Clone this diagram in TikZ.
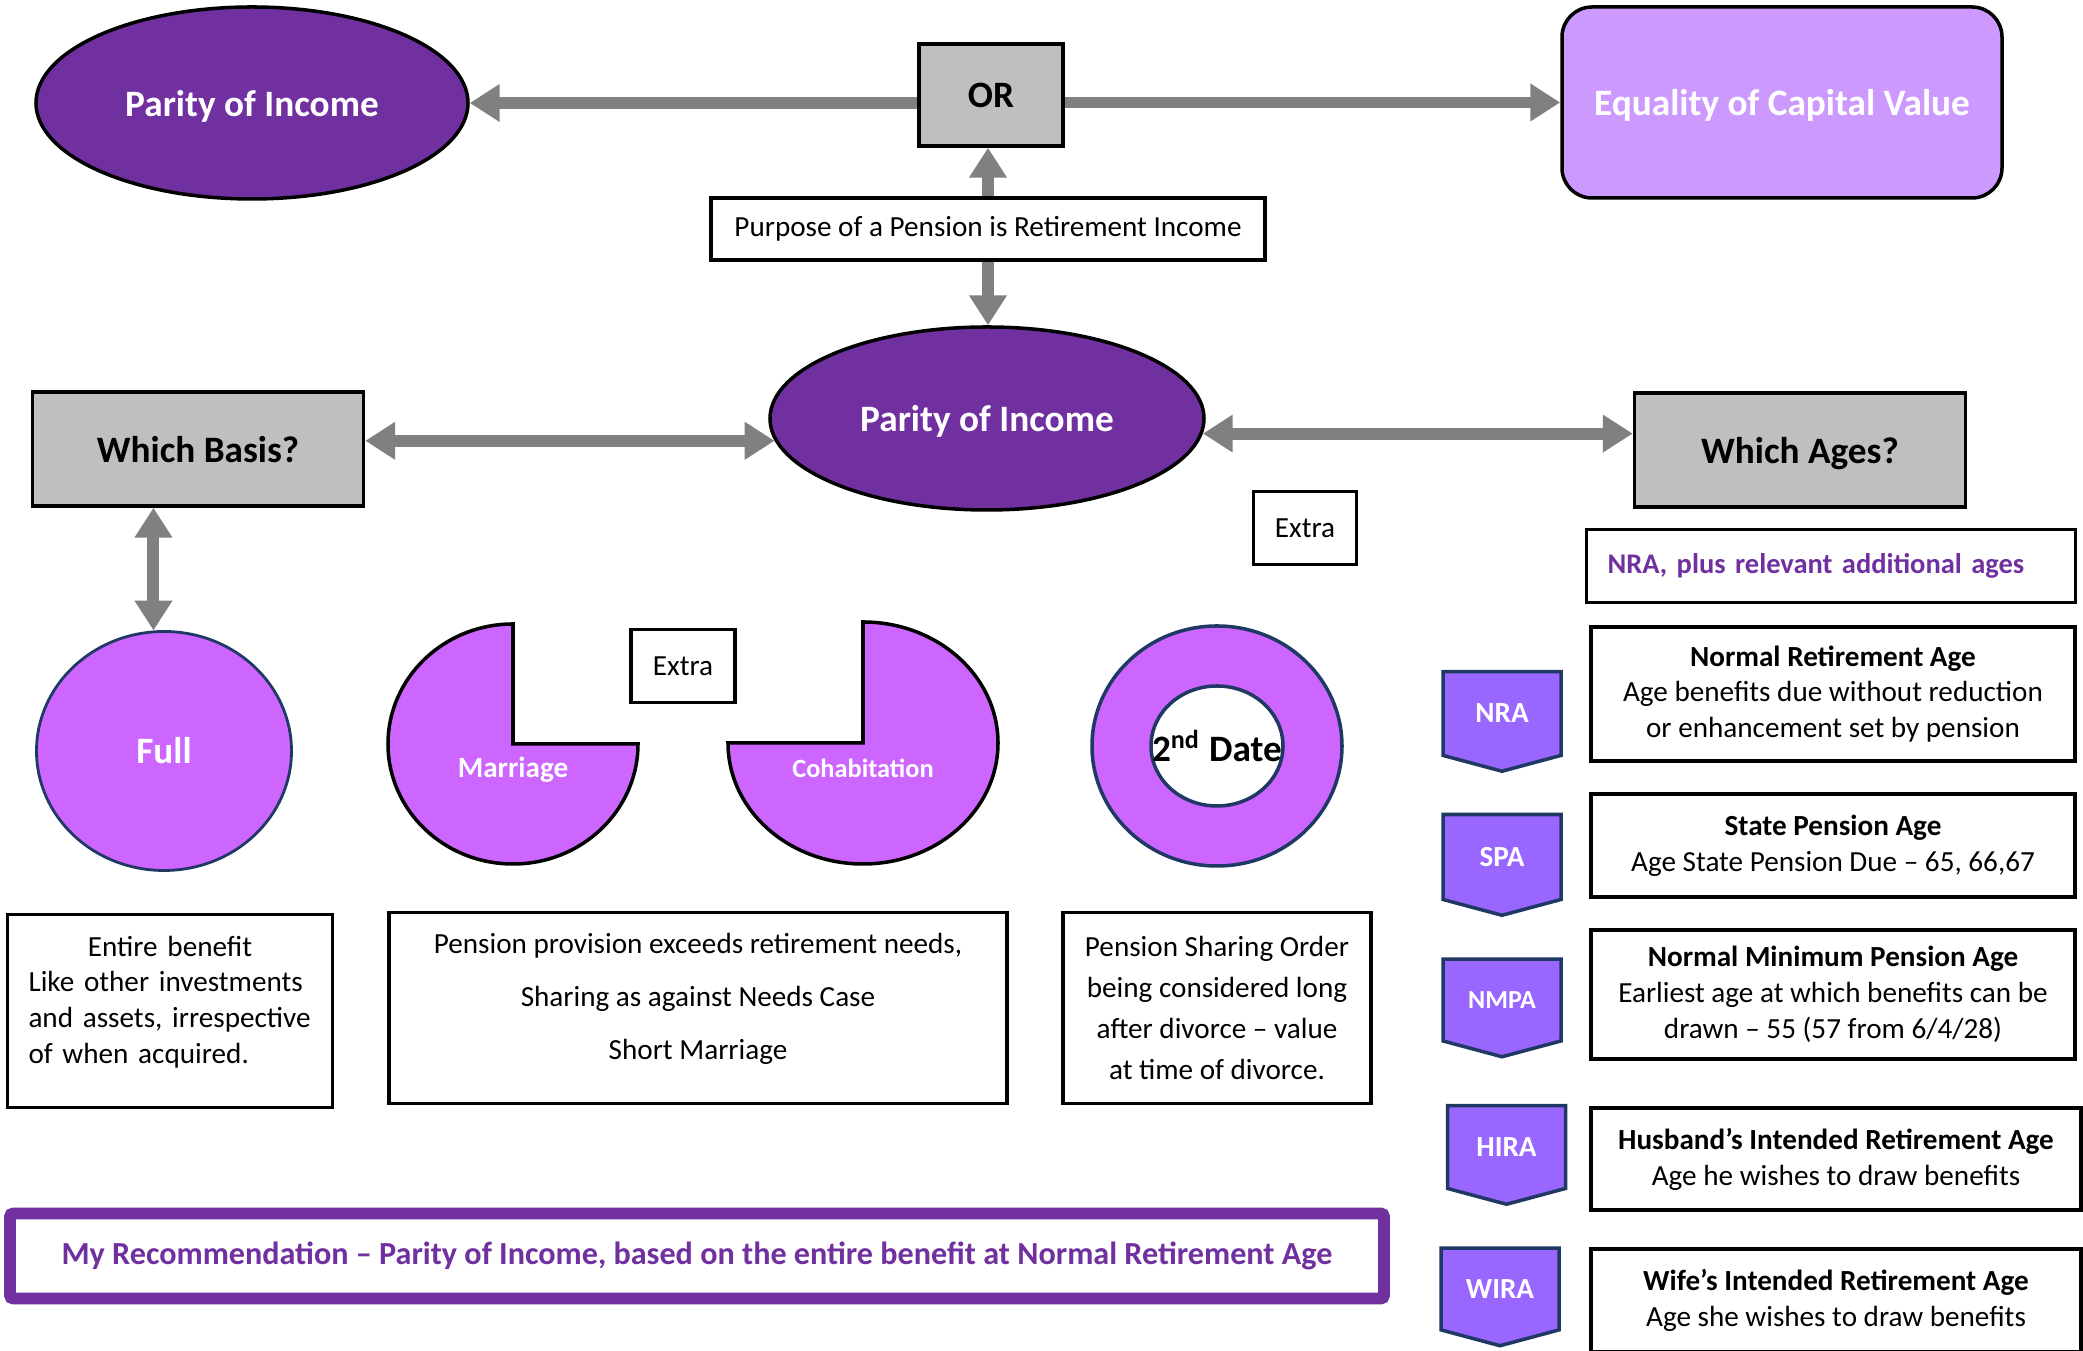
\documentclass[tikz,border=0pt]{standalone}
\usepackage{fontspec}
\setmainfont{Carlito}
\usepackage{tikz}
\usetikzlibrary{arrows.meta,shapes.geometric,shapes.symbols}

\definecolor{plum}{HTML}{7030A0}
\definecolor{lilac}{HTML}{CC99FF}
\definecolor{orchid}{HTML}{CC66FF}
\definecolor{tagfill}{HTML}{9966FF}
\definecolor{edgeblue}{HTML}{203864}
\definecolor{boxgray}{HTML}{BFBFBF}
\definecolor{arrowgray}{HTML}{808080}

\newcommand{\bodysize}{\fontsize{8.3pt}{10.2pt}\selectfont}
\newcommand{\headsize}{\fontsize{10.6pt}{12.5pt}\selectfont}
\newcommand{\recsize}{\fontsize{9.15pt}{11pt}\selectfont}
\newcommand{\lift}{\rule[-6.4pt]{0pt}{6.4pt}}
\frenchspacing

\begin{document}
\begin{tikzpicture}[
    darkoval/.style={ellipse, draw, line width=1pt, fill=plum, text=white, font=\headsize\bfseries, text depth=0pt, inner sep=0pt},
    graybox/.style={rectangle, draw, line width=1pt, fill=boxgray, font=\headsize\bfseries, text depth=0pt, inner sep=0pt},
    textbox/.style={rectangle, draw, line width=1pt, fill=white, align=center, font=\bodysize, inner sep=0pt},
    agetag/.style={signal, signal to=south, signal pointer angle=150, draw=edgeblue, line width=1pt, fill=tagfill, text=white, font=\bodysize\bfseries, inner sep=0pt, minimum width=1.18cm, minimum height=0.91cm},
    slice/.style={draw, line width=1pt, fill=orchid},
    link/.style={draw=arrowgray, line width=3.4pt, -{Triangle[width=10.2pt,length=8.5pt]}},
    twoway/.style={draw=arrowgray, line width=3.4pt, {Triangle[width=10.2pt,length=8.5pt]}-{Triangle[width=10.2pt,length=8.5pt]}}
]
    \useasboundingbox (0,0) rectangle (20.83,13.51);

    \node[darkoval, minimum width=4.32cm, minimum height=1.92cm] (parityTop) at (2.52,12.48) {Parity of Income};
    \node[graybox, minimum width=1.44cm, minimum height=1.02cm] (or) at (9.91,12.56) {OR};
    \node[rectangle, rounded corners=0.3cm, draw, line width=1pt, fill=lilac, text=white, font=\headsize\bfseries, text depth=0pt, minimum width=4.40cm, minimum height=1.91cm] (equality) at (17.82,12.485) {Equality of Capital Value};
    \node[textbox, minimum width=5.54cm, minimum height=0.62cm] (purpose) at (9.88,11.22) {Purpose of a Pension is Retirement Income};

    \node[darkoval, minimum width=4.34cm, minimum height=1.83cm] (mid) at (9.87,9.325) {Parity of Income};
    \node[graybox, minimum width=3.31cm, minimum height=1.14cm] (basis) at (1.98,9.02) {Which Basis?};
    \node[graybox, minimum width=3.31cm, minimum height=1.14cm] (ages) at (18.0,9.01) {Which Ages?};

    \draw[link] (parityTop.east -| or.west) -- (parityTop.east);
    \draw[link] (equality.west -| or.east) -- (equality.west);
    \draw[link] (purpose.north) -- (purpose.north |- or.south);
    \draw[link] (purpose.south) -- (purpose.south |- mid.north);
    \draw[twoway] (mid.186 -| basis.east) -- (mid.186);
    \draw[twoway] (mid.-4) -- (mid.-4 -| ages.west);

    \node[textbox, minimum width=1.03cm, minimum height=0.73cm] (extraA) at (13.05,8.23) {Extra};
    \node[textbox, minimum width=4.89cm, minimum height=0.73cm, text width=4.47cm, align=left, text=plum, font=\fontsize{8.1pt}{10pt}\selectfont\bfseries] (nraNote) at (18.31,7.85) {NRA, plus relevant additional ages};

    \node[ellipse, draw=edgeblue, line width=0.8pt, fill=orchid, text=white, font=\headsize\bfseries, inner sep=0pt, minimum width=2.55cm, minimum height=2.39cm] (full) at (1.64,6.0) {Full};
    \draw[twoway] (basis.south -| full.95) -- (full.95);

    \draw[slice] (5.13,6.07) -- ++(0,1.20) arc[start angle=90, end angle=360, x radius=1.25cm, y radius=1.20cm] -- cycle;
    \node[text=white, font=\bodysize\bfseries] (marriage) at (5.13,5.81) {Marriage};
    \node[textbox, minimum width=1.04cm, minimum height=0.73cm] (extraB) at (6.83,6.85) {Extra};
    \draw[slice] (8.63,6.08) -- ++(-1.35,0) arc[start angle=180, end angle=450, x radius=1.35cm, y radius=1.21cm] -- cycle;
    \node[text=white, font=\fontsize{7.5pt}{9pt}\selectfont\bfseries] (cohab) at (8.63,5.83) {Cohabitation};

    \node[ellipse, draw=edgeblue, line width=1pt, fill=orchid, inner sep=0pt, minimum width=2.50cm, minimum height=2.40cm] (dateRing) at (12.17,6.05) {};
    \node[ellipse, draw=edgeblue, line width=1pt, fill=white, inner sep=0pt, minimum width=1.32cm, minimum height=1.20cm] (dateHole) at (dateRing) {};
    \node[font=\headsize\bfseries, inner sep=0pt] (date) at (dateHole) {2\textsuperscript{nd} Date};

    \node[textbox, minimum width=3.25cm, minimum height=1.93cm, text width=2.83cm, align=left] (entire) at (1.70,3.40) {{\centering Entire benefit\par}Like other investments\\and assets, irrespective\\of when acquired.\lift};
    \node[textbox, minimum width=6.18cm, minimum height=1.91cm, font=\fontsize{8.3pt}{15.1pt}\selectfont] (provision) at (6.98,3.43) {Pension provision exceeds retirement needs,\\Sharing as against Needs Case\\Short Marriage\lift};
    \node[textbox, minimum width=3.08cm, minimum height=1.91cm, font=\fontsize{8.3pt}{11.7pt}\selectfont] (sharing) at (12.17,3.43) {Pension Sharing Order\\being considered long\\after divorce – value\\at time of divorce.};

    \node[rectangle, rounded corners=1pt, draw=plum, line width=3.4pt, fill=white, text=plum, font=\recsize\bfseries, minimum width=13.74cm, minimum height=0.85cm] (advice) at (6.97,0.95) {My Recommendation – Parity of Income, based on the entire benefit at Normal Retirement Age};

    \node[agetag] (nraTag) at (15.02,6.375) {NRA};
    \node[agetag] (spaTag) at (15.02,4.94) {SPA};
    \node[agetag, font=\fontsize{7.4pt}{9pt}\selectfont\bfseries] (nmpaTag) at (15.02,3.51) {NMPA};
    \node[agetag] (hiraTag) at (15.065,2.04) {HIRA};
    \node[agetag] (wiraTag) at (15.0,0.62) {WIRA};

    \node[textbox, minimum width=4.84cm, minimum height=1.34cm] (nraBox) at (18.33,6.57) {\textbf{Normal Retirement Age}\\Age benefits due without reduction\\or enhancement set by pension};
    \node[textbox, minimum width=4.84cm, minimum height=1.03cm] (spaBox) at (18.33,5.055) {\textbf{State Pension Age}\\Age State Pension Due – 65, 66,67};
    \node[textbox, minimum width=4.84cm, minimum height=1.29cm] (nmpaBox) at (18.33,3.565) {\textbf{Normal Minimum Pension Age}\\Earliest age at which benefits can be\\drawn – 55 (57 from 6/4/28)};
    \node[textbox, minimum width=4.90cm, minimum height=1.02cm] (hiraBox) at (18.36,1.92) {\textbf{Husband’s Intended Retirement Age}\\Age he wishes to draw benefits};
    \node[textbox, minimum width=4.90cm, minimum height=1.03cm] (wiraBox) at (18.36,0.505) {\textbf{Wife’s Intended Retirement Age}\\Age she wishes to draw benefits};
\end{tikzpicture}
\end{document}
